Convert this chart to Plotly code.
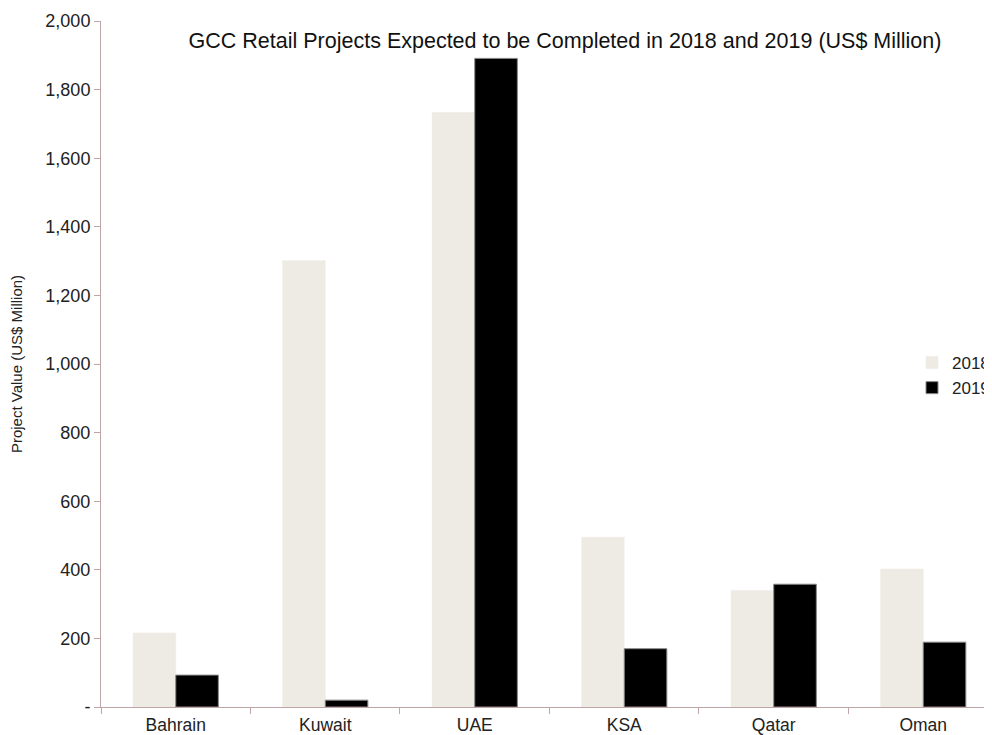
import plotly.graph_objects as go

categories = ["Bahrain", "Kuwait", "UAE", "KSA", "Qatar", "Oman"]
values_2018 = [216, 1301, 1733, 495, 340, 402]
values_2019 = [93, 20, 1891, 170, 358, 189]
ytick_vals = [0, 200, 400, 600, 800, 1000, 1200, 1400, 1600, 1800, 2000]
ytick_text = ["-", "200", "400", "600", "800", "1,000", "1,200", "1,400", "1,600", "1,800", "2,000"]

axis_color = "#BFA5A5"
font_family = "Liberation Sans, Arial, sans-serif"

fig = go.Figure()
fig.add_trace(go.Bar(x=categories, y=values_2018, name="2018",
                     marker=dict(color="#EEEBE4", line=dict(color="#EEEBE4", width=0.5))))
fig.add_trace(go.Bar(x=categories, y=values_2019, name="2019",
                     marker=dict(color="#000000", line=dict(color="#888888", width=1))))

fig.update_layout(
    width=992, height=735,
    paper_bgcolor="white", plot_bgcolor="white",
    margin=dict(l=93, r=8, t=13, b=36, autoexpand=False),
    barmode="group", bargap=0.43, bargroupgap=0,
    font=dict(family=font_family, size=18, color="#222222"),
    title=dict(text="GCC Retail Projects Expected to be Completed in 2018 and 2019 (US$ Million)",
               x=557 / 992, xref="container", xanchor="center", y=1 - 32 / 735, yanchor="middle",
               font=dict(size=21.5, color="#111111"), automargin=False),
    showlegend=True,
    legend=dict(x=(912 - 101) / 891, y=(707 - 345) / 686, xanchor="left", yanchor="top",
                bgcolor="rgba(0,0,0,0)", font=dict(size=17), itemwidth=30,
                tracegroupgap=0),
    xaxis=dict(range=[-0.5, 5.46], showline=True, linecolor=axis_color, linewidth=1,
               ticks="outside", tickson="boundaries", ticklen=6, tickcolor=axis_color,
               showgrid=False, tickfont=dict(size=17.5), automargin=False,
               ticklabelstandoff=2),
    yaxis=dict(range=[0, 2000], showline=True, linecolor=axis_color, linewidth=1,
               ticks="outside", ticklen=6, tickcolor=axis_color, showgrid=False,
               zeroline=False, tickvals=ytick_vals, ticktext=ytick_text,
               tickfont=dict(size=18), automargin=False,
               title=dict(text="Project Value (US$ Million)", font=dict(size=15), standoff=19)),
)

fig.write_html("out.html")
